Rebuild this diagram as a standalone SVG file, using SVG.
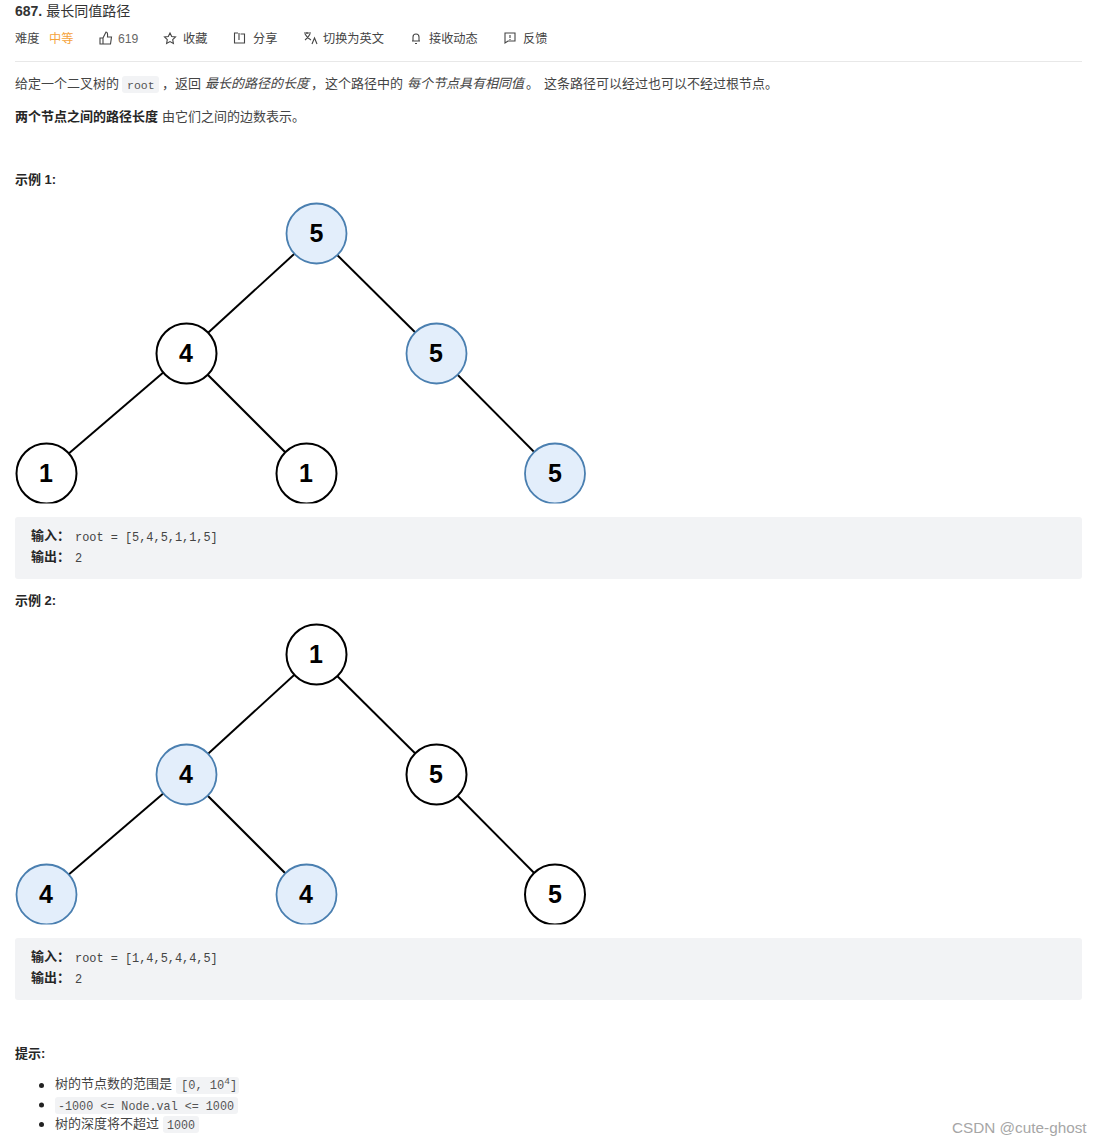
<svg xmlns="http://www.w3.org/2000/svg" width="1102" height="1146" viewBox="0 0 1102 1146">
<style>
text{font-family:"Liberation Sans","Noto Sans CJK SC",sans-serif;font-size:13px;fill:#444}
.t{font-size:12.200px}
.b{font-weight:700;fill:#262626}
.i{font-style:italic}
.m{font-family:"Liberation Mono","Noto Sans CJK SC",monospace;font-size:11.500px;fill:#555}
.p{font-family:"Liberation Mono","Noto Sans CJK SC",monospace;font-size:11.900px;fill:#444}
.s{font-family:"Liberation Mono","Noto Sans CJK SC",monospace;font-size:12.800px;fill:#555}
.n{font-family:"Liberation Sans",sans-serif;font-size:25px;font-weight:700;fill:#000;text-anchor:middle}
.w{fill:#fff;stroke:#000;stroke-width:2}
.h{fill:#e3eefb;stroke:#4a7fb0;stroke-width:1.800}
.e line{stroke:#000;stroke-width:2}
.c{fill:#f2f3f5}
.ic{fill:none;stroke:#444;stroke-width:1.100}
.bullet{fill:#222}
</style>
<defs><clipPath id="clip1"><rect x="0" y="195" width="600" height="308.500"/></clipPath><clipPath id="clip2"><rect x="0" y="616" width="600" height="308.500"/></clipPath></defs>
<rect width="1102" height="1146" fill="#fff"/>
<g id="header">
<text x="15" y="16" style="font-size:14px;fill:#333"><tspan font-weight="700">687.</tspan> 最长同值路径</text>
<text class="t" x="15" y="43">难度</text>
<text class="t" x="49" y="43" style="fill:#f5a33c">中等</text>
<path class="ic" d="M100 38h3v6h-3zM103 38l3-6q2 0 1.500 5h4l-1 7h-7.500"/>
<text class="t" x="118" y="43" style="fill:#666">619</text>
<path class="ic" d="M170 33l1.700 3.500 3.800.5-2.800 2.600.7 3.900-3.400-1.900-3.400 1.900.7-3.900-2.800-2.600 3.800-.5z"/>
<text class="t" x="183" y="43">收藏</text>
<path class="ic" d="M238 33h-3.500v10h10v-9h-4M239 33v7"/>
<text class="t" x="253" y="43">分享</text>
<path class="ic" d="M304 33h7M307 32v2M305 34q2 4 6 6M310 34q-2 4-5 6M312 44l2.500-6 2.500 6"/>
<text class="t" x="323" y="43">切换为英文</text>
<path class="ic" d="M412 41h8M413 41v-4q0-3 3-3t3 3v4M415 43.500h2"/>
<text class="t" x="429" y="43">接收动态</text>
<path class="ic" d="M505 33h10v8h-7l-3 2zM510 35v3M510 39v1"/>
<text class="t" x="523" y="43">反馈</text>
<rect x="15" y="61" width="1067" height="1" fill="#e8e8e8"/>
</g>
<g id="intro">
<text x="15" y="88">给定一个二叉树的</text>
<rect class="c" x="122" y="76" width="37" height="17" rx="3"/>
<text class="m" x="127" y="89">root</text>
<text x="162" y="88">，返回</text>
<text class="i" x="205" y="88">最长的路径的长度</text>
<text x="311" y="88">，</text>
<text x="325" y="88">这个路径中的</text>
<text class="i" x="407" y="88">每个节点具有相同值</text>
<text x="526" y="88">。</text>
<text x="544" y="88">这条路径可以经过也可以不经过根节点。</text>
<text class="b" x="15" y="121">两个节点之间的路径长度</text>
<text x="162" y="121">由它们之间的边数表示。</text>
<text class="b" x="15" y="184">示例 1:</text>
</g>
<g class="e" id="connectors">
<line x1="316" y1="234" x2="186" y2="353"/><line x1="316" y1="234" x2="436" y2="353"/>
<line x1="186" y1="353" x2="46" y2="473"/><line x1="186" y1="353" x2="306" y2="473"/>
<line x1="436" y1="353" x2="555" y2="473"/>
<line x1="316" y1="655" x2="186" y2="774"/><line x1="316" y1="655" x2="436" y2="774"/>
<line x1="186" y1="774" x2="46" y2="894"/><line x1="186" y1="774" x2="306" y2="894"/>
<line x1="436" y1="774" x2="555" y2="894"/>
</g>
<g id="a1"><circle class="h" cx="316.500" cy="233.500" r="30"/><text class="n" x="316.500" y="242">5</text></g>
<g id="a2"><circle class="w" cx="186.500" cy="353.500" r="30"/><text class="n" x="186" y="362">4</text></g>
<g id="a3"><circle class="h" cx="436.500" cy="353.500" r="30"/><text class="n" x="436" y="362">5</text></g>
<g id="a4" clip-path="url(#clip1)"><circle class="w" cx="46.500" cy="473.500" r="30"/><text class="n" x="46" y="482">1</text></g>
<g id="a5" clip-path="url(#clip1)"><circle class="w" cx="306.500" cy="473.500" r="30"/><text class="n" x="306" y="482">1</text></g>
<g id="a6" clip-path="url(#clip1)"><circle class="h" cx="555" cy="473.500" r="30"/><text class="n" x="555" y="482">5</text></g>
<g id="box1">
<rect class="c" x="15" y="517" width="1067" height="62" rx="3"/>
<text class="b" x="31" y="540">输入：</text><text class="p" x="75" y="541">root = [5,4,5,1,1,5]</text>
<text class="b" x="31" y="561">输出：</text><text class="p" x="75" y="562">2</text>
</g>
<text class="b" x="15" y="605">示例 2:</text>
<g id="b1"><circle class="w" cx="316.500" cy="654.500" r="30"/><text class="n" x="316" y="663">1</text></g>
<g id="b2"><circle class="h" cx="186.500" cy="774.500" r="30"/><text class="n" x="186" y="783">4</text></g>
<g id="b3"><circle class="w" cx="436.500" cy="774.500" r="30"/><text class="n" x="436" y="783">5</text></g>
<g id="b4" clip-path="url(#clip2)"><circle class="h" cx="46.500" cy="894.500" r="30"/><text class="n" x="46" y="903">4</text></g>
<g id="b5" clip-path="url(#clip2)"><circle class="h" cx="306.500" cy="894.500" r="30"/><text class="n" x="306" y="903">4</text></g>
<g id="b6" clip-path="url(#clip2)"><circle class="w" cx="555" cy="894.500" r="30"/><text class="n" x="555" y="903">5</text></g>
<g id="box2">
<rect class="c" x="15" y="938" width="1067" height="62" rx="3"/>
<text class="b" x="31" y="961">输入：</text><text class="p" x="75" y="962">root = [1,4,5,4,4,5]</text>
<text class="b" x="31" y="982">输出：</text><text class="p" x="75" y="983">2</text>
</g>
<g id="tips">
<text class="b" x="15" y="1058">提示:</text>
<circle class="bullet" cx="41.500" cy="1085.500" r="2.500"/>
<text x="55" y="1088">树的节点数的范围是</text>
<rect class="c" x="176" y="1077" width="63" height="17" rx="3"/>
<text class="s" x="181" y="1089" style="font-size:12px">[0, 10<tspan dy="-5" style="font-size:9.500px">4</tspan><tspan dy="5">]</tspan></text>
<circle class="bullet" cx="41.500" cy="1105" r="2.500"/>
<rect class="c" x="55" y="1097" width="183" height="17" rx="3"/>
<text class="s" x="58" y="1110" textLength="176" lengthAdjust="spacingAndGlyphs">-1000 &lt;= Node.val &lt;= 1000</text>
<circle class="bullet" cx="41.500" cy="1124.500" r="2.500"/>
<text x="55" y="1128">树的深度将不超过</text>
<rect class="c" x="163" y="1116" width="36" height="17" rx="3"/>
<text class="s" x="167" y="1129" textLength="28" lengthAdjust="spacingAndGlyphs">1000</text>
</g>
<text id="watermark" x="952" y="1133" style="font-size:15.300px;fill:#a6a6a6">CSDN @cute-ghost</text>
</svg>
